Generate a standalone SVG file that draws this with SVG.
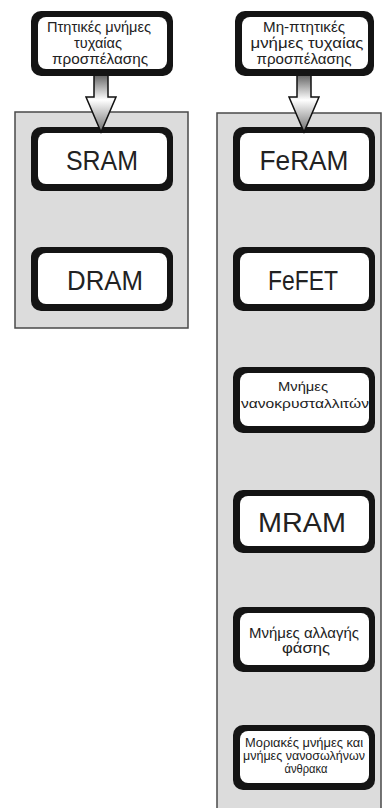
<svg xmlns="http://www.w3.org/2000/svg" width="384" height="808" viewBox="0 0 384 808">
<defs>
<linearGradient id="ag" x1="0" y1="0" x2="0" y2="1">
<stop offset="0" stop-color="#3a3a3a"/>
<stop offset="0.5" stop-color="#ffffff"/>
<stop offset="1" stop-color="#6e6e6e"/>
</linearGradient>
</defs>
<style>
.panel{fill:#dcdcdc;stroke:#4a4a4a;stroke-width:1.5}
.outer{fill:#141414}
.inner{fill:#ffffff}
.arrow{fill:url(#ag);stroke:#111;stroke-width:1.5;stroke-linejoin:miter}
.big{font-family:"Liberation Sans","DejaVu Sans",sans-serif;font-size:27px;fill:#222;text-anchor:middle}
.small{font-family:"Liberation Sans","DejaVu Sans",sans-serif;font-size:14px;fill:#222;text-anchor:middle}
.mid{font-family:"Liberation Sans","DejaVu Sans",sans-serif;font-size:13px;fill:#222;text-anchor:middle}
.tiny{font-family:"Liberation Sans","DejaVu Sans",sans-serif;font-size:12px;fill:#222;text-anchor:middle}
</style>
<rect width="384" height="808" fill="#ffffff"/>
<g id="panel-volatile"><rect class="panel" x="15" y="112" width="173" height="216"/></g>
<g id="panel-nonvolatile"><rect class="panel" x="217" y="113" width="164" height="700"/></g>

<g id="sram"><rect class="outer" x="31" y="127" width="142" height="64" rx="10"/><rect class="inner" x="38" y="133" width="129" height="51" rx="8"/><text class="big" x="102" y="170" textLength="72" lengthAdjust="spacingAndGlyphs">SRAM</text></g>
<g id="dram"><rect class="outer" x="31" y="247" width="142" height="64" rx="10"/><rect class="inner" x="38" y="253" width="129" height="51" rx="8"/><text class="big" x="105" y="290" textLength="76" lengthAdjust="spacingAndGlyphs">DRAM</text></g>

<g id="feram"><rect class="outer" x="233" y="127" width="142" height="64" rx="10"/><rect class="inner" x="240" y="133" width="129" height="51" rx="8"/><text class="big" x="304" y="170" textLength="89" lengthAdjust="spacingAndGlyphs">FeRAM</text></g>
<g id="fefet"><rect class="outer" x="233" y="247" width="142" height="64" rx="10"/><rect class="inner" x="240" y="253" width="129" height="51" rx="8"/><text class="big" x="303" y="290" textLength="70" lengthAdjust="spacingAndGlyphs">FeFET</text></g>
<g id="nano"><rect class="outer" x="233" y="367" width="142" height="66" rx="10"/><rect class="inner" x="240" y="373" width="129" height="53" rx="8"/><text class="mid" x="303" y="391" textLength="50" lengthAdjust="spacingAndGlyphs">Μνήμες</text><text class="mid" x="305" y="408" textLength="128" lengthAdjust="spacingAndGlyphs">νανοκρυσταλλιτών</text></g>
<g id="mram"><rect class="outer" x="233" y="490" width="142" height="63" rx="10"/><rect class="inner" x="240" y="496" width="129" height="50" rx="8"/><text class="big" x="302" y="532" textLength="88" lengthAdjust="spacingAndGlyphs">MRAM</text></g>
<g id="pcm"><rect class="outer" x="233" y="607" width="142" height="65" rx="10"/><rect class="inner" x="240" y="613" width="129" height="52" rx="8"/><text class="small" x="304" y="638" textLength="110" lengthAdjust="spacingAndGlyphs">Μνήμες αλλαγής</text><text class="small" x="306" y="653" textLength="48" lengthAdjust="spacingAndGlyphs">φάσης</text></g>
<g id="molecular"><rect class="outer" x="233" y="725" width="142" height="65" rx="10"/><rect class="inner" x="240" y="731" width="129" height="52" rx="8"/><text class="tiny" x="304" y="747" textLength="118" lengthAdjust="spacingAndGlyphs">Μοριακές μνήμες και</text><text class="tiny" x="304" y="760" textLength="122" lengthAdjust="spacingAndGlyphs">μνήμες νανοσωλήνων</text><text class="tiny" x="306" y="773" textLength="43" lengthAdjust="spacingAndGlyphs">άνθρακα</text></g>

<g id="connectors">
<path class="arrow" d="M94,68 L108,68 L108,97 L116,97 L101,132 L86,97 L94,97 Z"/>
<path class="arrow" d="M297,68 L311,68 L311,97 L319,97 L304,132 L289,97 L297,97 Z"/>
</g>

<g id="volatile-ram"><rect class="outer" x="31" y="11" width="142" height="65" rx="10"/><rect class="inner" x="38" y="17" width="129" height="52" rx="8"/><text class="small" x="99" y="32" textLength="104" lengthAdjust="spacingAndGlyphs">Πτητικές μνήμες</text><text class="small" x="98" y="48" textLength="48" lengthAdjust="spacingAndGlyphs">τυχαίας</text><text class="small" x="100" y="64" textLength="96" lengthAdjust="spacingAndGlyphs">προσπέλασης</text></g>
<g id="nonvolatile-ram"><rect class="outer" x="235" y="11" width="139" height="65" rx="10"/><rect class="inner" x="242" y="17" width="126" height="52" rx="8"/><text class="small" x="304" y="32" textLength="82" lengthAdjust="spacingAndGlyphs">Μη-πτητικές</text><text class="small" x="307" y="48" textLength="113" lengthAdjust="spacingAndGlyphs">μνήμες τυχαίας</text><text class="small" x="304" y="64" textLength="95" lengthAdjust="spacingAndGlyphs">προσπέλασης</text></g>
</svg>
